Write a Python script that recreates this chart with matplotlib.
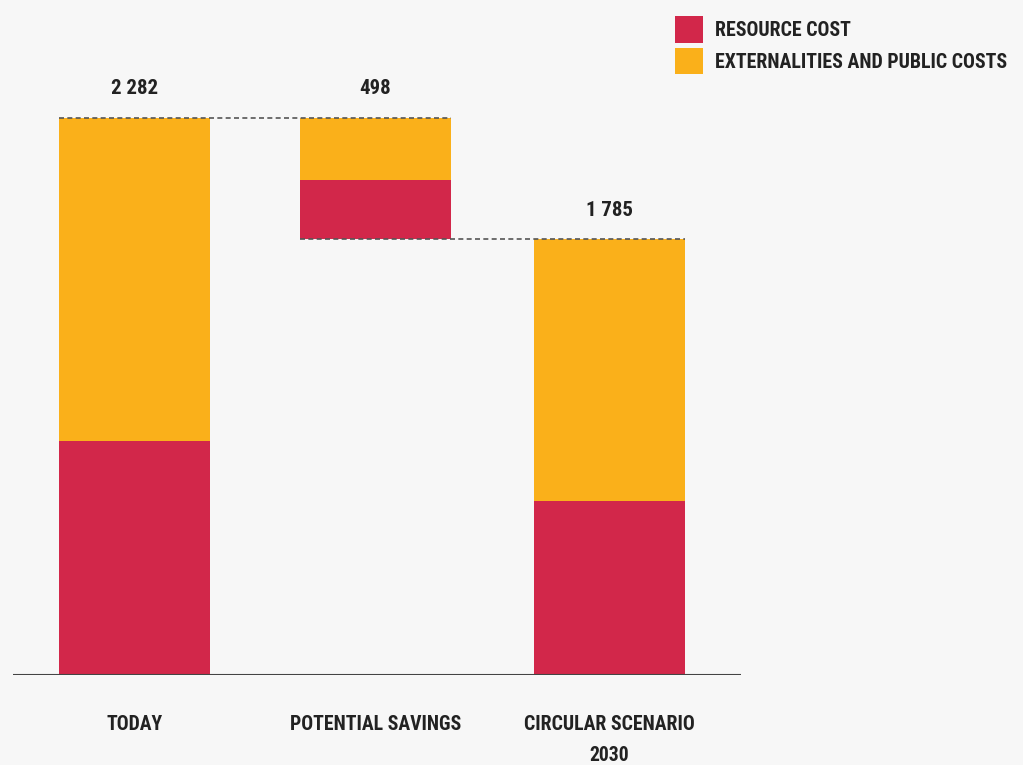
import matplotlib
matplotlib.use('Agg')
import matplotlib.pyplot as plt
from matplotlib.font_manager import fontManager

# Cost breakdown (EUR bn)
categories = ['TODAY', 'POTENTIAL SAVINGS', 'CIRCULAR SCENARIO\n2030']
resource_cost = [959, 242, 711]
external_cost = [1323, 256, 1074]
total_labels = ['2 282', '498', '1 785']

red = '#D2274A'
yellow = '#FAB01A'
bg = '#F7F7F7'
ink = '#222222'

names = {f.name for f in fontManager.ttflist}
fams = [f for f in ['Roboto Condensed', 'Liberation Sans Narrow', 'DejaVu Sans Condensed']
        if f in names] + ['DejaVu Sans']
plt.rcParams['font.family'] = fams
plt.rcParams['font.weight'] = 'bold'

fig = plt.figure(figsize=(10.23, 7.65), dpi=100, facecolor=bg)
ax_left, ax_right = 13 / 1023, 741 / 1023
ax_bottom = 1 - 675 / 765
ax = fig.add_axes([ax_left, ax_bottom, ax_right - ax_left, 1 - ax_bottom])
ax.set_facecolor(bg)

today_total = resource_cost[0] + external_cost[0]
circ_total = resource_cost[2] + external_cost[2]
# savings bar floats between the circular total and today's total
bases = [0, circ_total, 0]
x = [134.5, 375.5, 609.5]
w = 151

ax.bar(x, resource_cost, w, bottom=bases, color=red, label='RESOURCE COST')
ax.bar(x, external_cost, w, bottom=[b + r for b, r in zip(bases, resource_cost)],
       color=yellow, label='EXTERNALITIES AND PUBLIC COSTS')

tops = [b + r + e for b, r, e in zip(bases, resource_cost, external_cost)]
for xi, top, lab in zip(x, tops, total_labels):
    ax.text(xi, top + 120, lab, ha='center', va='center', fontsize=15, color=ink)

# connector lines
ax.plot([x[0] - w / 2, x[1] + w / 2], [today_total, today_total], ls=(0, (3, 2)), c='#555555', lw=1.2)
ax.plot([x[1] - w / 2, x[2] + w / 2], [circ_total, circ_total], ls=(0, (3, 2)), c='#555555', lw=1.2)

ax.axhline(0, c='#444444', lw=1.5)

for xi, cat in zip(x, categories):
    ax.text(xi, -162, cat, ha='center', va='top', fontsize=14.2, color=ink, linespacing=1.85)

ax.set_xlim(13, 741)
ax.set_ylim(0, today_total * 675 / 557)
ax.axis('off')

leg = fig.legend(loc='upper left', bbox_to_anchor=(657 / 1023, 1 + 2 / 765), frameon=False,
                 fontsize=14.3, handlelength=1.4, handleheight=1.7, handletextpad=0.6,
                 labelspacing=0.25, labelcolor=ink)

fig.savefig('out.png', dpi=100, facecolor=bg)
